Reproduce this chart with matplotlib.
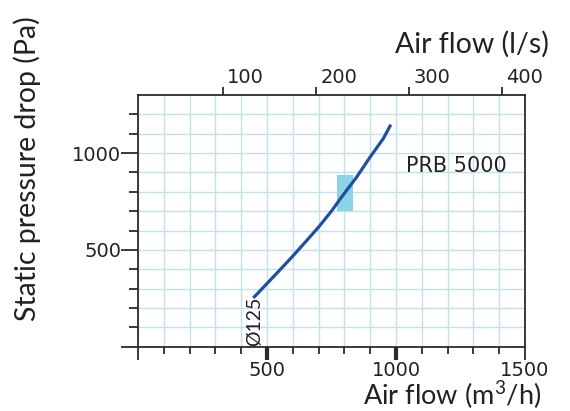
import matplotlib
matplotlib.use("Agg")
import matplotlib.pyplot as plt
import matplotlib.transforms as mtransforms
import numpy as np

plt.rcParams["mathtext.fontset"] = "custom"
plt.rcParams["mathtext.rm"] = "Lato"
plt.rcParams["mathtext.it"] = "Lato"

# ------------- data -------------
flow_m3h = [447, 492, 544, 596, 647, 699, 751, 783, 847, 899, 951, 980]        # m3/h
pressure_pa = [252, 315, 388, 462, 538, 616, 702, 762, 875, 978, 1075, 1147]  # Pa

box_flow = [773, 832]       # working-point box, m3/h
box_pa = [702, 885]         # working-point box, Pa

x_major = [0, 500, 1000, 1500]
x_major_labels = ["", "500", "1000", "1500"]
y_major = [0, 500, 1000]
y_major_labels = ["", "500", "1000"]
top_ticks = [100, 200, 300, 400]          # l/s
top_labels = ["100", "200", "300", "400"]

model_label = "PRB 5000"
duct_label = "Ø125"
# ---------------------------------------------------

line_col = "#1f4f9f"
box_col = "#8dd3e6"
grid_col = "#c2e2ea"
spine_col = "#2b2b2b"
text_col = "#222222"
label_font = ["Lato", "DejaVu Sans"]
tick_font = "DejaVu Sans"

fig = plt.figure(figsize=(5.7, 4.11), dpi=100)
ax = fig.add_axes([0.2421, 0.1564, 0.921 - 0.2421, 0.7689 - 0.1564])

ax.set_xlim(0, 1500)
ax.set_ylim(0, 1300)

# light blue grid every 100
ax.set_xticks(np.arange(100, 1500, 100), minor=True)
ax.set_yticks(np.arange(100, 1300, 100), minor=True)
ax.grid(True, which="both", color=grid_col, linewidth=1.0)
ax.set_axisbelow(True)

ax.fill_between(box_flow, box_pa[0], box_pa[1], color=box_col, linewidth=0, zorder=2)
ax.plot(flow_m3h, pressure_pa, color=line_col, linewidth=2.3,
        solid_capstyle="butt", solid_joinstyle="round", zorder=3)

for s in ax.spines.values():
    s.set_color(spine_col)
    s.set_linewidth(1.3)

ax.set_xticks(x_major)
ax.set_xticklabels(x_major_labels, family=tick_font)
ax.set_yticks(y_major)
ax.set_yticklabels(y_major_labels, family=tick_font)

ax.tick_params(axis="x", which="major", direction="out", length=9, width=3,
               color=spine_col, labelsize=14, pad=1, labelcolor=text_col)
ax.tick_params(axis="x", which="minor", direction="out", length=5, width=1.3,
               color=spine_col)
ax.tick_params(axis="y", which="major", direction="out", length=12, width=1.3,
               color=spine_col, labelsize=14, pad=0, labelcolor=text_col)
ax.tick_params(axis="y", which="minor", direction="out", length=6.5, width=1.3,
               color=spine_col)
ax.tick_params(which="both", top=False, right=False)

# the 0 and 1500 ticks on the bottom axis are thin
xt = ax.xaxis.get_major_ticks()
for i in (0, 3):
    xt[i].tick1line.set_markeredgewidth(1.3)

# top axis in l/s (offset scale as printed)
top = ax.secondary_xaxis("top", functions=(lambda x: (x + 30) / 3.6,
                                           lambda q: q * 3.6 - 30))
top.set_xticks(top_ticks)
top.set_xticklabels(top_labels, family=tick_font)
top.tick_params(direction="out", length=6, width=1.3, color=spine_col,
                labelsize=14, pad=0, labelcolor=text_col)
top.spines["top"].set_visible(False)
offset = mtransforms.ScaledTranslation(3 / 72, 0, fig.dpi_scale_trans)
for lab in top.get_xticklabels():
    lab.set_horizontalalignment("left")
    lab.set_transform(lab.get_transform() + offset)

# axis titles
fig.text(541 / 570, 1 - 395 / 411, "Air flow (m$^3$/h)", ha="right", va="center",
         fontsize=19.5, family=label_font, color=text_col)
fig.text(549 / 570, 1 - 44 / 411, "Air flow (l/s)", ha="right", va="center",
         fontsize=20.5, family=label_font, color=text_col)
fig.text(27 / 570, 1 - 169 / 411, "Static pressure drop (Pa)", ha="center",
         va="center", rotation=90, fontsize=20.5, family=label_font, color=text_col)

ax.text(1234, 934, model_label, ha="center", va="center", fontsize=15,
        family=tick_font, color=text_col)
ax.text(453, 3, duct_label, ha="center", va="bottom", rotation=90,
        fontsize=14, family=label_font, color=text_col, zorder=4)

fig.savefig("out.png", dpi=100)
